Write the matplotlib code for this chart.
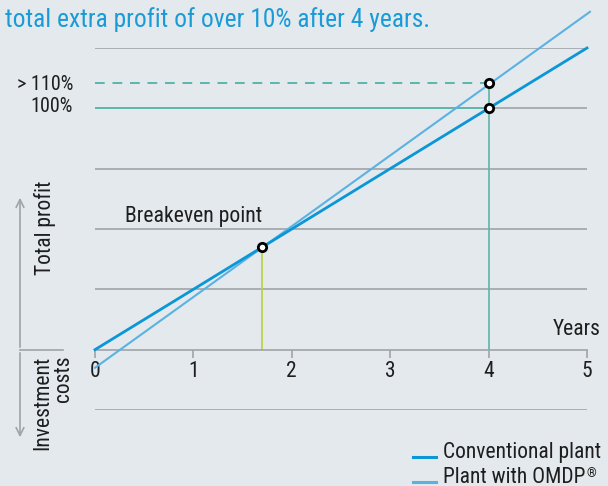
import matplotlib
matplotlib.use("Agg")
import matplotlib.pyplot as plt
from matplotlib import font_manager

# data
years = [0, 1, 2, 3, 4, 5]
conventional = [0, 25, 50, 75, 100, 125]
omdp_years = [0, 5.03]
omdp = [-7.5, 140]
breakeven = (1.7, 42.5)
pt_100 = (4, 100)
pt_110 = (4, 110.5)
grid_levels = [-25, 25, 50, 75, 125]

names = {f.name for f in font_manager.fontManager.ttflist}
fam = 'DejaVu Sans'
for f in ['Roboto Condensed', 'Liberation Sans Narrow', 'Open Sans Condensed', 'Roboto']:
    if f in names:
        fam = f
        break
plt.rcParams['font.family'] = [fam, 'DejaVu Sans']
narrow = fam in ('Roboto Condensed', 'Liberation Sans Narrow', 'Open Sans Condensed')
k = 1.0 if narrow else 0.9  # shrink text a bit if no condensed face

bg = '#e4e9ed'
grey = '#9ea4a8'
blue = '#0a96d7'
light = '#5ab2e3'
teal = '#5cb5a9'
lime = '#b8d23a'
ink = '#1e1e1e'

W, H = 608, 486
fig = plt.figure(figsize=(W / 100, H / 100), dpi=100, facecolor=bg)
ax = fig.add_axes([95 / W, (H - 410) / H, 492 / W, 362 / H])
ax.set_facecolor(bg)
ax.set_xlim(0, 5)
ax.set_ylim(-25, 125)

for s in ['top', 'right', 'left']:
    ax.spines[s].set_visible(False)
ax.spines['bottom'].set_position(('data', 0))
ax.spines['bottom'].set_color(grey)
ax.spines['bottom'].set_linewidth(1.2)
ax.set_yticks([])
ax.set_xticks(years)
ax.tick_params(axis='x', direction='out', length=6, color=grey, width=1.2,
               labelsize=15.5 * k, pad=2, labelcolor=ink)

ax.hlines(grid_levels, 0, 5, color=grey, lw=1.2, zorder=1)
ax.hlines(100, 4, 5, color=grey, lw=1.2, zorder=1)
ax.hlines(100, 0, 4, color=teal, lw=1.4, zorder=2)
ax.hlines(110.5, 0, 4, color=teal, lw=1.4, linestyles=(0, (5, 4)), zorder=2)
ax.vlines(4, 0, 110.5, color=teal, lw=1.2, zorder=2)
ax.vlines(breakeven[0], 0, breakeven[1], color=lime, lw=1.2, zorder=2)

ax.plot(omdp_years, omdp, color=light, lw=1.5, clip_on=False, zorder=3)
ax.plot([years[0], years[-1]], [conventional[0], conventional[-1]], color=blue, lw=2,
        clip_on=False, zorder=4)

for x, y in [breakeven, pt_100, pt_110]:
    ax.plot(x, y, 'o', ms=6, mfc='white', mec='black', mew=2, zorder=5, clip_on=False)

ax.text(5.14, 4, 'Years', fontsize=15.5 * k, ha='right', va='bottom', color=ink)
ax.text(0.3, 51, 'Breakeven point', fontsize=15.7 * k, ha='left', va='bottom', color=ink)

fig.text(5 / W, 1 - 20 / H, 'total extra profit of over 10% after 4 years.',
         fontsize=18.4 * k, color='#1a9bd7', ha='left', va='center')
fig.text(73 / W, 1 - 84 / H, '> 110%', fontsize=14.5 * k, ha='right', va='center', color=ink)
fig.text(73 / W, 1 - 107 / H, '100%', fontsize=14.5 * k, ha='right', va='center', color=ink)
fig.text(45 / W, 1 - 228 / H, 'Total profit', fontsize=15.5 * k, rotation=90,
         ha='center', va='center', color=ink)
fig.text(53 / W, 1 - 356 / H, 'Investment\ncosts', fontsize=15.5 * k, rotation=90,
         ha='center', va='top', multialignment='right', color=ink, linespacing=0.95)

# left arrows and stub
ax.annotate('', xy=(20 / W, 1 - 195 / H), xytext=(20 / W, 1 - 350 / H),
            xycoords='figure fraction',
            arrowprops=dict(arrowstyle='->', color=grey, lw=1.2, mutation_scale=14))
ax.annotate('', xy=(20 / W, 1 - 440 / H), xytext=(20 / W, 1 - 350 / H),
            xycoords='figure fraction',
            arrowprops=dict(arrowstyle='->', color=grey, lw=1.2, mutation_scale=14))
fig.add_artist(plt.Line2D([20 / W, 63 / W], [1 - 350 / H, 1 - 350 / H], color=grey, lw=1.2))

# legend (drawn by hand, second entry sits on the bottom edge like the original)
fig.add_artist(plt.Line2D([413 / W, 436 / W], [1 - 457 / H, 1 - 457 / H], color=blue, lw=2.2))
fig.add_artist(plt.Line2D([413 / W, 436 / W], [1 - 482 / H, 1 - 482 / H], color=light, lw=2.2))
fig.text(443 / W, 1 - 458 / H, 'Conventional plant', fontsize=15.5 * k, ha='left',
         va='baseline', color=ink)
t2 = fig.text(443 / W, 1 - 483 / H, 'Plant with OMDP', fontsize=15.5 * k, ha='left',
              va='baseline', color=ink)
ax.annotate('®', xy=(1, 1), xycoords=t2, xytext=(1, 0), textcoords='offset points',
            fontsize=9 * k, color=ink, ha='left', va='top', annotation_clip=False)

fig.savefig('out.png', dpi=100, facecolor=bg)
